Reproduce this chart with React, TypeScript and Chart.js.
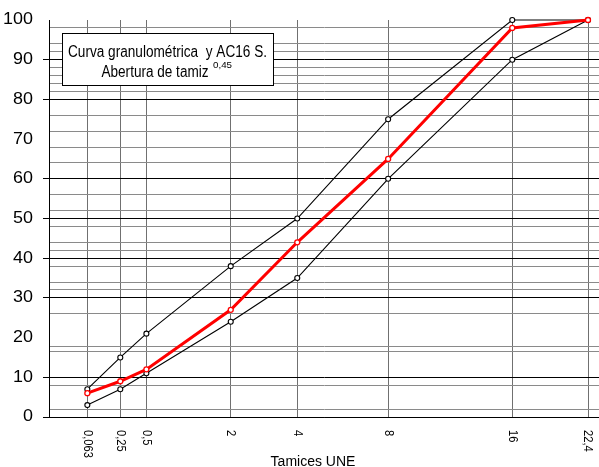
import React, { useEffect, useRef } from "react";
import { Chart, registerables } from "chart.js";

Chart.register(...registerables);

// ---- data ----
const sieves = [0.063, 0.25, 0.5, 2, 4, 8, 16, 22.4];
const sieveLabels = ["0,063", "0,25", "0,5", "2", "4", "8", "16", "22,4"];
const upperLimit = [7, 15, 21, 38, 50, 75, 100, 100];
const lowerLimit = [3, 7, 11, 24, 35, 60, 90, 100];
const mixCurve = [6, 9, 12, 27, 44, 65, 98, 100];
const yLabels = [0, 10, 20, 30, 40, 50, 60, 70, 80, 90, 100];
const majorLines = [0, 10, 30, 40, 50, 60, 80, 90];
const minorLines = [2, 8, 16.4, 17.8, 26, 32, 34, 38, 42, 44, 48, 52, 56, 64, 68, 72, 76, 82, 84, 86, 88, 92, 94, 98];
const EXP = 0.45;
const titleLine1 = "Curva granulométrica  y AC16 S.";
const titleLine2 = "Abertura de tamiz";
const titleSup = "0,45";
const xTitle = "Tamices UNE";

const tx = (v: number) => Math.pow(v, EXP);
const toPoints = (arr: number[]) => sieves.map((s, i) => ({ x: tx(s), y: arr[i] }));

const FONT = '"Liberation Sans", Arial, sans-serif';

function fitText(ctx: CanvasRenderingContext2D, text: string, x: number, y: number, targetW: number, align: "left" | "center" | "right") {
  const w = ctx.measureText(text).width;
  const s = targetW / w;
  ctx.save();
  ctx.translate(x, y);
  ctx.scale(s, 1);
  ctx.textAlign = align;
  ctx.fillText(text, 0, 0);
  ctx.restore();
}

const decorPlugin = {
  id: "decor",
  afterDraw(chart: any) {
    const ctx: CanvasRenderingContext2D = chart.ctx;
    const xs = chart.scales.x;
    const ys = chart.scales.y;
    ctx.save();
    ctx.fillStyle = "#000";

    // y labels
    ctx.font = "16px " + FONT;
    ctx.textBaseline = "middle";
    const digitScale = 1.12;
    yLabels.forEach((v) => {
      const y = ys.getPixelForValue(v);
      ctx.save();
      ctx.translate(33, y);
      ctx.scale(digitScale, 1);
      ctx.textAlign = "right";
      ctx.fillText(String(v), 0, 0);
      ctx.restore();
    });

    // x labels (rotated clockwise)
    ctx.font = "13px " + FONT;
    ctx.textBaseline = "middle";
    sieves.forEach((s, i) => {
      const x = xs.getPixelForValue(tx(s));
      ctx.save();
      ctx.translate(x, 430);
      ctx.rotate(Math.PI / 2);
      ctx.scale(0.86, 1);
      ctx.textAlign = "left";
      ctx.fillText(sieveLabels[i], 0, 0);
      ctx.restore();
    });

    // x title
    ctx.font = "14px " + FONT;
    ctx.textBaseline = "alphabetic";
    ctx.textAlign = "center";
    ctx.fillText(xTitle, 313, 466);

    // title box
    ctx.fillStyle = "#fff";
    ctx.fillRect(62.5, 33.5, 211, 52);
    ctx.strokeStyle = "#000";
    ctx.lineWidth = 1;
    ctx.strokeRect(62.5, 33.5, 211, 52);
    ctx.fillStyle = "#000";
    ctx.font = "16px " + FONT;
    ctx.textBaseline = "alphabetic";
    fitText(ctx, titleLine1, 167.5, 57, 199, "center");
    fitText(ctx, titleLine2, 101.5, 77, 107, "left");
    ctx.font = "9px " + FONT;
    fitText(ctx, titleSup, 213, 68, 19, "left");

    ctx.restore();
  },
};

export default function App() {
  const ref = useRef<HTMLCanvasElement | null>(null);

  useEffect(() => {
    if (!ref.current) return;
    const xMax = tx(22.4) / 0.98;
    const chart = new Chart(ref.current, {
      type: "scatter",
      data: {
        datasets: [
          {
            label: "Mezcla",
            data: toPoints(mixCurve),
            showLine: true,
            borderColor: "#ff0000",
            borderWidth: 3,
            pointRadius: 2.5,
            pointBorderWidth: 1.3,
            pointBorderColor: "#ff0000",
            pointBackgroundColor: "#ffffff",
            clip: false,
          } as any,
          {
            label: "Límite superior",
            data: toPoints(upperLimit),
            showLine: true,
            borderColor: "#000",
            borderWidth: 1.1,
            pointRadius: 2.5,
            pointBorderWidth: 1.1,
            pointBorderColor: "#000",
            pointBackgroundColor: "#ffffff",
            clip: false,
          } as any,
          {
            label: "Límite inferior",
            data: toPoints(lowerLimit),
            showLine: true,
            borderColor: "#000",
            borderWidth: 1.1,
            pointRadius: 2.5,
            pointBorderWidth: 1.1,
            pointBorderColor: "#000",
            pointBackgroundColor: "#ffffff",
            clip: false,
          } as any,
        ],
      },
      options: {
        animation: false,
        responsive: false,
        maintainAspectRatio: false,
        layout: { autoPadding: false, padding: { top: 20, left: 0, right: 0, bottom: 0 } },
        plugins: { legend: { display: false }, tooltip: { enabled: false } },
        scales: {
          x: {
            type: "linear",
            min: 0,
            max: xMax,
            afterBuildTicks: (scale: any) => {
              scale.ticks = sieves.map((s) => ({ value: tx(s) }));
            },
            afterFit: (scale: any) => {
              scale.height = 50;
            },
            ticks: { display: false },
            grid: { color: "#707070", lineWidth: 1, drawTicks: false },
            border: { display: true, color: "#000", width: 1 },
          },
          y: {
            type: "linear",
            min: 0,
            max: 100,
            afterBuildTicks: (scale: any) => {
              scale.ticks = [...majorLines, ...minorLines]
                .sort((a, b) => a - b)
                .map((v) => ({ value: v }));
            },
            afterFit: (scale: any) => {
              scale.width = 49;
            },
            ticks: { display: false },
            grid: {
              color: (c: any) => (majorLines.includes(c.tick?.value) ? "#000" : "#8a8a8a"),
              tickColor: (c: any) => (majorLines.includes(c.tick?.value) ? "#000" : "rgba(0,0,0,0)"),
              lineWidth: 1,
              drawTicks: true,
              tickLength: 6,
            },
            border: { display: true, color: "#000", width: 1 },
          },
        },
      } as any,
      plugins: [decorPlugin],
    });
    return () => chart.destroy();
  }, []);

  return (
    <div style={{ position: "absolute", left: 0, top: 0, width: 599, height: 467, background: "#fff" }}>
      <canvas ref={ref} width={599} height={467} style={{ display: "block" }} />
    </div>
  );
}
